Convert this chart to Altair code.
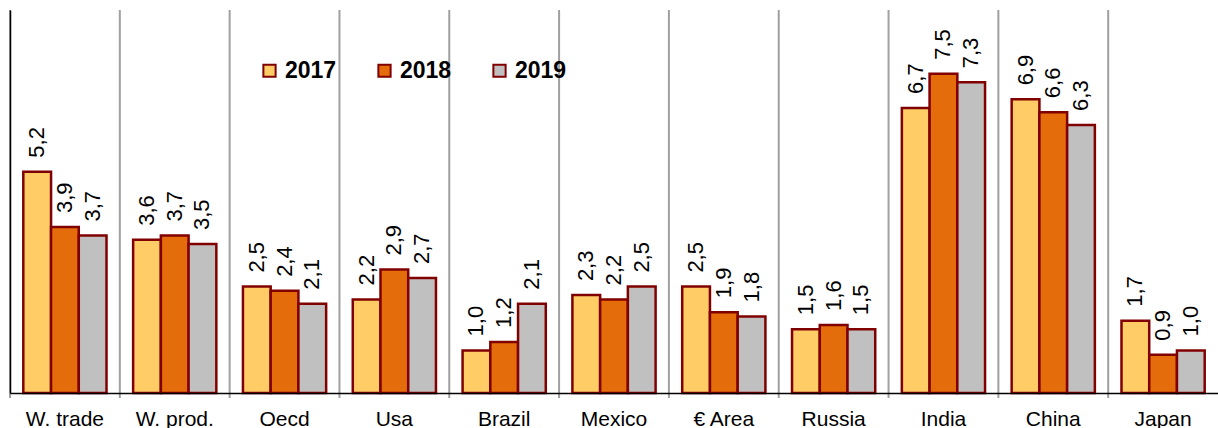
import altair as alt
import pandas as pd

categories = ["W. trade", "W. prod.", "Oecd", "Usa", "Brazil", "Mexico",
              "€ Area", "Russia", "India", "China", "Japan"]
years = ["2017", "2018", "2019"]
v2017 = [5.2, 3.6, 2.5, 2.2, 1.0, 2.3, 2.5, 1.5, 6.7, 6.9, 1.7]
v2018 = [3.9, 3.7, 2.4, 2.9, 1.2, 2.2, 1.9, 1.6, 7.5, 6.6, 0.9]
v2019 = [3.7, 3.5, 2.1, 2.7, 2.1, 2.5, 1.8, 1.5, 7.3, 6.3, 1.0]
colors = ["#FFCC66", "#E46C0A", "#C0C0C0"]

rows = []
for yr, vals in zip(years, [v2017, v2018, v2019]):
    for c, v in zip(categories, vals):
        rows.append({"cat": c, "year": yr, "value": v,
                     "label": f"{v:.1f}".replace(".", ",")})
df = pd.DataFrame(rows)
sep = pd.DataFrame({"cat": categories})

FONT = "Liberation Sans"
xscale = alt.Scale(domain=categories, paddingInner=0, paddingOuter=0)
xaxis = alt.Axis(labelAngle=0, ticks=False, domain=True, domainColor="black",
                 domainWidth=1.5, labelFontSize=21, labelPadding=15,
                 labelColor="black", labelFont=FONT, grid=False, zindex=1)
x = alt.X("cat:N", scale=xscale, sort=categories, title=None, axis=xaxis)
xo = alt.XOffset("year:N", scale=alt.Scale(domain=years, paddingInner=0, paddingOuter=0.48))
y = alt.Y("value:Q", scale=alt.Scale(domain=[0, 9], nice=False),
          axis=alt.Axis(title=None, labels=False, ticks=False, grid=False,
                        domainColor="black", domainWidth=1.5, zindex=1))

bars = alt.Chart(df).mark_bar(stroke="#800000", strokeWidth=2.5).encode(
    x=x, xOffset=xo, y=y,
    color=alt.Color("year:N", scale=alt.Scale(domain=years, range=colors),
                    legend=alt.Legend(orient="none", legendX=248, legendY=49,
                                      direction="horizontal", title=None,
                                      symbolType="square", symbolSize=150,
                                      symbolStrokeColor="#800000", symbolStrokeWidth=2,
                                      symbolOpacity=1, labelFontSize=23,
                                      labelFontWeight="bold", labelFont=FONT,
                                      labelColor="black", columnPadding=36,
                                      labelOffset=4, padding=0)))

rules = alt.Chart(sep).mark_rule(color="#A0A0A0", strokeWidth=2).encode(
    x=alt.X("cat:N", scale=xscale, sort=categories, title=None, axis=xaxis, bandPosition=0),
    y=alt.value(0), y2=alt.value(388))

texts = alt.Chart(df).mark_text(angle=270, align="left", baseline="middle", dx=14,
                                fontSize=22, font=FONT, color="black").encode(
    x=alt.X("cat:N", scale=xscale, sort=categories, title=None, axis=xaxis),
    xOffset=xo, y=y, text="label:N")

chart = alt.layer(bars, rules, texts).properties(
    width=1208, height=383,
    autosize=alt.AutoSizeParams(type="none"),
    padding={"left": 10, "top": 10, "right": 0, "bottom": 35},
).configure_view(stroke=None)

chart.save("out.html", embed_options={"renderer": "svg", "actions": False})
